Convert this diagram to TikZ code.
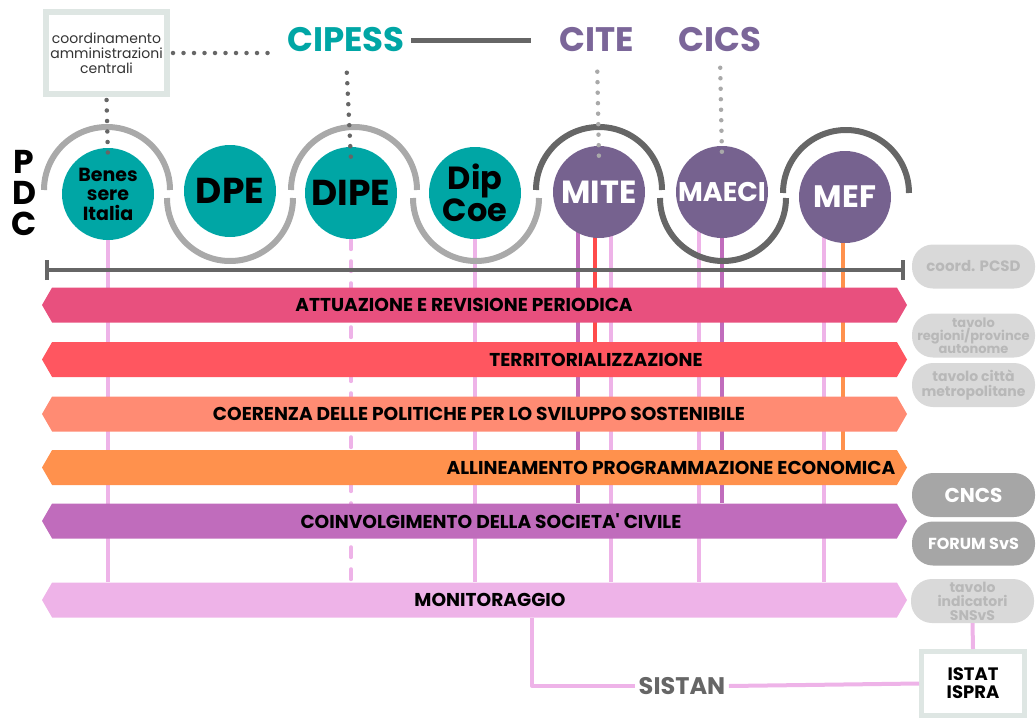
\documentclass[tikz,border=0pt]{standalone}
\usepackage{fontspec}
\setmainfont{Poppins}
\usetikzlibrary{shapes.symbols,backgrounds,arrows.meta}

\definecolor{pdcteal}{HTML}{00A6A5}
\definecolor{pdcpurple}{HTML}{76628F}
\definecolor{citepurple}{HTML}{7B6699}
\definecolor{ringlight}{HTML}{A9A9A9}
\definecolor{ringdark}{HTML}{666666}
\definecolor{bandA}{HTML}{E8507E}
\definecolor{bandB}{HTML}{FF5660}
\definecolor{bandC}{HTML}{FF8B73}
\definecolor{bandD}{HTML}{FF914D}
\definecolor{bandE}{HTML}{C06CBC}
\definecolor{bandF}{HTML}{EEB3E8}
\definecolor{redline}{HTML}{FF4B4B}
\definecolor{pilllight}{HTML}{D9D9D9}
\definecolor{pilltext}{HTML}{B8B8B8}
\definecolor{pilldark}{HTML}{A6A6A6}
\definecolor{boxline}{HTML}{DEE6E3}
\definecolor{sistangray}{HTML}{666666}

\tikzset{
  ente/.style={circle, minimum size=92, inner sep=0, align=center},
  ring/.style={line width=6, line cap=butt},
  dots/.style={line width=4.5, line cap=round, dash pattern=on 0pt off 10.5pt},
  band/.style={signal, signal to=east and west, signal pointer angle=120,
    minimum width=865, minimum height=35, inner sep=0},
  bandtxt/.style={font=\fontsize{18.6}{20}\selectfont\bfseries, inner sep=0},
  pill/.style={rectangle, rounded corners=21, minimum width=123, minimum height=44,
    inner sep=0, align=center},
  tavolo/.style={pill, fill=pilllight, text=pilltext},
  forum/.style={pill, fill=pilldark, text=white},
  vline/.style={line width=4, line join=round},
  header/.style={font=\fontsize{34}{34}\selectfont\bfseries},
}

\begin{document}
\begin{tikzpicture}[x=1pt, y=-1pt]
\useasboundingbox (0,0) rectangle (1036,720);

\node[draw=boxline, line width=6, minimum width=121, minimum height=82, align=center,
  text=black!80, font=\fontsize{14}{15}\selectfont] (coord) at (106.5,53)
  {coordinamento\\amministrazioni\\centrali};
\node[header, text=pdcteal] (cipess) at (346,40) {CIPESS};
\node[header, text=citepurple] (cite) at (597,40) {CITE};
\node[header, text=citepurple] (cics) at (720,40) {CICS};
\draw[dots, ringdark, shorten <=3pt, shorten >=12pt] (coord.east) -- (coord.east -| cipess.west);
\draw[ringdark, line width=5, shorten <=3pt, shorten >=25pt] (cipess.east) -- (cipess.east -| cite.west);

\node[font=\fontsize{33}{31}\selectfont\bfseries, align=center, inner sep=0] (pdc) at (24,193) {P\\D\\C};

\foreach \cx/\cy/\a/\col in {107/190/360/ringlight, 230/198/0/ringlight, 354/190/360/ringlight,
  476/198/0/ringlight, 599/190/360/ringdark, 723/198/0/ringdark, 846/193/360/ringdark}
  \draw[ring, \col] (\cx-63,\cy) arc[start angle=180, end angle=\a, radius=63];

\node[ente, fill=pdcteal, font=\fontsize{19}{19.5}\selectfont\bfseries] (benes) at (108,194) {Benes\\sere\\Italia};
\node[ente, fill=pdcteal, font=\fontsize{36}{36}\selectfont\bfseries] (dpe) at (230,191) {DPE};
\node[ente, fill=pdcteal, font=\fontsize{36}{36}\selectfont\bfseries] (dipe) at (351,193) {DIPE};
\node[ente, fill=pdcteal, font=\fontsize{32}{29}\selectfont\bfseries] (dipcoe) at (475,193) {Dip\\Coe};
\node[ente, fill=pdcpurple, text=white, font=\fontsize{32}{32}\selectfont\bfseries] (mite) at (599,192) {MITE};
\node[ente, fill=pdcpurple, text=white, font=\fontsize{27}{27}\selectfont\bfseries] (maeci) at (722,192) {MAECI};
\node[ente, fill=pdcpurple, text=white, font=\fontsize{31}{31}\selectfont\bfseries] (mef) at (845,197) {MEF};

\draw[ringdark, line width=4, {Bar[width=20pt]}-{Bar[width=20pt]}] (45,270) -- (905,270);
\node[tavolo, font=\fontsize{15}{15}\selectfont\bfseries] (pcsd) at (973.5,266.5) {coord. PCSD};

\node[band, fill=bandA] (attuaz) at (474.5,305) {};
\node[bandtxt] (attuaz-t) at (464,305) {ATTUAZIONE E REVISIONE PERIODICA};
\node[band, fill=bandB] (territ) at (474.5,359.5) {};
\node[bandtxt] (territ-t) at (596,359.5) {TERRITORIALIZZAZIONE};
\node[band, fill=bandC] (coer) at (474.5,414) {};
\node[bandtxt] (coer-t) at (479,414) {COERENZA DELLE POLITICHE PER LO SVILUPPO SOSTENIBILE};
\node[band, fill=bandD] (allin) at (474.5,467.5) {};
\node[bandtxt] (allin-t) at (671,467.5) {ALLINEAMENTO PROGRAMMAZIONE ECONOMICA};
\node[band, fill=bandE] (coinv) at (474.5,521) {};
\node[bandtxt] (coinv-t) at (491,521) {COINVOLGIMENTO DELLA SOCIETA\textquotesingle{} CIVILE};
\node[band, fill=bandF] (mon) at (474.5,600) {};
\node[bandtxt] (mon-t) at (490,600) {MONITORAGGIO};

\begin{scope}[on background layer]
\draw[vline, bandF] (benes.center) -- (benes.center |- mon.north);
\draw[vline, bandF, line cap=round, dash pattern=on 10pt off 12pt] (dipe.south) -- (dipe.south |- mon.north);
\draw[vline, bandF] (dipcoe.center) -- (dipcoe.center |- mon.north);
\draw[vline, bandE] ([xshift=-21pt]mite.center) -- ([xshift=-21pt]mite.center |- coinv.north);
\draw[vline, redline] ([xshift=-4pt]mite.center) -- ([xshift=-4pt]mite.center |- territ.north);
\draw[vline, bandF] ([xshift=12pt]mite.center) -- ([xshift=12pt]mite.center |- mon.north);
\draw[vline, bandF] ([xshift=-23pt]maeci.center) -- ([xshift=-23pt]maeci.center |- mon.north);
\draw[vline, bandE] (maeci.center) -- (maeci.center |- coinv.north);
\draw[vline, bandF] ([xshift=-21pt]mef.center) -- ([xshift=-21pt]mef.center |- mon.north);
\draw[vline, bandD] ([xshift=-2pt]mef.center) -- ([xshift=-2pt]mef.center |- allin.north);
\end{scope}

\draw[dots, ringdark, shorten <=3pt] (coord.south) -- ([yshift=-12pt]benes.north);
\draw[dots, ringdark, shorten <=17pt] (cipess.south) -- ([yshift=-14pt]dipe.north);
\draw[dots, ringlight, shorten <=16pt] (cite.south) -- ([yshift=-15pt]mite.north);
\draw[dots, ringlight, shorten <=12pt] (cics.south) -- ([yshift=-12pt]maeci.north);

\node[tavolo, font=\fontsize{13}{13}\selectfont\bfseries] (regioni) at (973.5,335.5) {tavolo\\regioni/province\\autonome};
\node[tavolo, font=\fontsize{14}{15}\selectfont\bfseries] (citta) at (973.5,385) {tavolo città\\metropolitane};
\node[forum, font=\fontsize{20}{20}\selectfont\bfseries] (cncs) at (973.5,495) {CNCS};
\node[forum, font=\fontsize{16}{16}\selectfont\bfseries] (forumsvs) at (973.5,543.5) {FORUM SvS};
\node[tavolo, font=\fontsize{14}{14}\selectfont\bfseries] (indic) at (972.5,601) {tavolo\\indicatori\\SNSvS};

\node[draw=boxline, line width=5, fill=white, minimum width=103, minimum height=64, align=center,
  font=\fontsize{18}{18}\selectfont\bfseries] (istat) at (973,683.5) {ISTAT\\ISPRA};
\node[font=\fontsize{24}{24}\selectfont\bfseries, text=sistangray] (sistan) at (682,686) {SISTAN};
\draw[vline, bandF] ([xshift=57.5pt]mon.south) |- (sistan.west);
\draw[vline, bandF] (sistan.east) -- (istat.west);
\draw[vline, bandF] (indic.south) -- (istat.north);
\end{tikzpicture}
\end{document}
